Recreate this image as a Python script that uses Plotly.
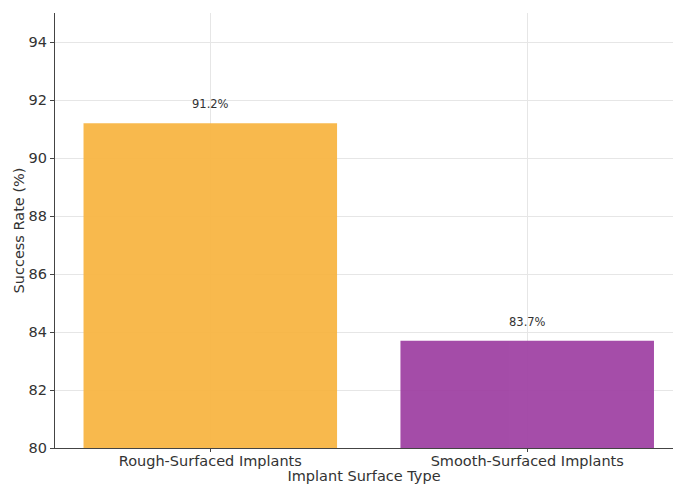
import plotly.graph_objects as go

categories = ["Rough-Surfaced Implants", "Smooth-Surfaced Implants"]
success_rate = [91.2, 83.7]
bar_colors = ["#F8B440", "#9E3FA2"]
y_ticks = [80, 82, 84, 86, 88, 90, 92, 94]

font_family = "DejaVu Sans, Arial, sans-serif"

fig = go.Figure()
fig.add_trace(go.Bar(
    x=[0, 1],
    y=success_rate,
    width=0.8,
    marker=dict(color=bar_colors, line=dict(width=0)),
    opacity=0.93,
    showlegend=False,
))

for i, v in enumerate(success_rate):
    fig.add_annotation(
        x=i, y=v + 0.35, text=f"{v}%", showarrow=False,
        yanchor="bottom", xanchor="center",
        font=dict(family=font_family, size=11.5, color="#333333"),
    )

fig.update_layout(
    width=673, height=484,
    margin=dict(l=55, r=0, t=13, b=36),
    paper_bgcolor="white", plot_bgcolor="white",
    font=dict(family=font_family, size=14.5, color="#333333"),
    xaxis=dict(
        range=[-0.49, 1.46],
        tickmode="array", tickvals=[0, 1], ticktext=categories,
        showgrid=True, gridcolor="#E6E6E6", gridwidth=1,
        showline=True, linecolor="#444444", linewidth=1.2,
        ticks="outside", ticklen=3, tickcolor="#444444",
        ticklabelstandoff=-4,
        tickfont=dict(size=14.5, color="#333333"),
        title=dict(text="Implant Surface Type", standoff=0,
                   font=dict(size=14.5, color="#333333")),
        zeroline=False,
    ),
    yaxis=dict(
        range=[80, 95],
        tickmode="array", tickvals=y_ticks,
        showgrid=True, gridcolor="#E6E6E6", gridwidth=1,
        showline=True, linecolor="#444444", linewidth=1.2,
        ticks="outside", ticklen=4, tickcolor="#444444",
        tickfont=dict(size=14.5, color="#333333"),
        title=dict(text="Success Rate (%)", standoff=0,
                   font=dict(size=14.5, color="#333333")),
        zeroline=False,
    ),
)

fig.write_html("out.html")
